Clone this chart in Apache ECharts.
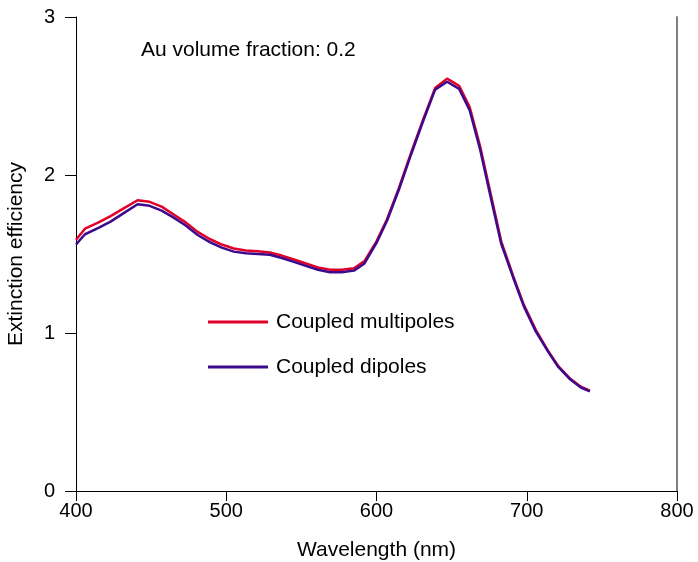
<!DOCTYPE html>
<html>
<head>
<meta charset="utf-8">
<script src="https://cdn.jsdelivr.net/npm/echarts@6/dist/echarts.min.js"></script>
<style>html,body{margin:0;padding:0;background:#fff}#c{width:698px;height:562px}</style>
</head>
<body>
<div id="c"></div>
<script>
const wavelengths = [400,406,415,423,432,441,449,457,465,473,481,489,497,505,513,521,529,537,545,553,561,569,577,585,592,600,607,615,623,631,639,647,655,662,669,676,683,691,698,706,714,721,729,736,742];
const multipoles = [1.59,1.66,1.70,1.74,1.79,1.84,1.83,1.80,1.75,1.70,1.64,1.595,1.56,1.535,1.522,1.518,1.51,1.49,1.465,1.44,1.415,1.40,1.40,1.41,1.455,1.58,1.72,1.92,2.14,2.35,2.55,2.61,2.565,2.43,2.18,1.88,1.58,1.36,1.18,1.02,0.89,0.79,0.71,0.66,0.635];
const dipoles = [1.56,1.625,1.665,1.705,1.76,1.815,1.805,1.775,1.73,1.68,1.62,1.575,1.54,1.515,1.505,1.50,1.495,1.475,1.45,1.425,1.40,1.385,1.385,1.395,1.44,1.57,1.71,1.91,2.13,2.34,2.54,2.59,2.545,2.41,2.16,1.86,1.565,1.35,1.17,1.01,0.885,0.785,0.705,0.655,0.63];
const seriesNames = ['Coupled multipoles','Coupled dipoles'];
const annotation = 'Au volume fraction: 0.2';
const xTitle = 'Wavelength (nm)';
const yTitle = 'Extinction efficiency';

const font = '"Liberation Sans", Arial, sans-serif';
const chart = echarts.init(document.getElementById('c'), null, {renderer:'canvas'});
const pair = (xs, ys) => xs.map((x,i)=>[x, ys[i]]);
chart.setOption({
  animation: false,
  backgroundColor: '#fff',
  textStyle: {fontFamily: font, color: '#000'},
  grid: {left: 76, top: 17, right: 21, bottom: 71, containLabel: false, outerBoundsMode: 'none'},
  legend: {
    orient: 'vertical', left: 208, top: 310, itemWidth: 60, itemHeight: 3, itemGap: 21, padding: 0,
    icon: 'rect',
    textStyle: {fontSize: 21, lineHeight: 24, color: '#000', fontFamily: font, padding: [0,0,0,3]},
    data: seriesNames
  },
  graphic: [{type: 'text', left: 141, top: 40, style: {text: annotation, fontSize: 21, fontFamily: font, fill: '#000'}}],
  xAxis: [{
    type: 'value', min: 400, max: 800, interval: 100,
    name: xTitle, nameLocation: 'middle', nameGap: 49,
    nameTextStyle: {fontSize: 21, color: '#000', fontFamily: font},
    axisLine: {lineStyle: {color: '#000', width: 1}},
    axisTick: {show: true, inside: false, length: 10, lineStyle: {color: '#000'}},
    axisLabel: {fontSize: 20, color: '#000', margin: 10, fontFamily: font},
    splitLine: {show: false}
  },{
    type: 'value', position: 'top', min: 400, max: 800,
    axisLine: {show: true, lineStyle: {color: '#000', width: 1}},
    axisTick: {show: false}, axisLabel: {show: false}, splitLine: {show: false}
  }],
  yAxis: [{
    type: 'value', min: 0, max: 3, interval: 1,
    name: yTitle, nameLocation: 'middle', nameGap: 49,
    nameTextStyle: {fontSize: 21, color: '#000', fontFamily: font},
    axisLine: {show: true, lineStyle: {color: '#000', width: 1}},
    axisTick: {show: true, inside: false, length: 11, lineStyle: {color: '#000'}},
    axisLabel: {fontSize: 20, color: '#000', margin: 21, fontFamily: font},
    splitLine: {show: false}
  },{
    type: 'value', position: 'right', min: 0, max: 3,
    axisLine: {show: true, lineStyle: {color: '#808080', width: 2}},
    axisTick: {show: false}, axisLabel: {show: false}, splitLine: {show: false}
  }],
  series: [{
    name: seriesNames[0], type: 'line', data: pair(wavelengths, multipoles),
    symbol: 'none', lineStyle: {color: '#e0002a', width: 2.5}, itemStyle: {color: '#e0002a'}, z: 2
  },{
    name: seriesNames[1], type: 'line', data: pair(wavelengths, dipoles),
    symbol: 'none', lineStyle: {color: '#3c0a8c', width: 2.5}, itemStyle: {color: '#3c0a8c'}, z: 3
  }]
});
</script>
</body>
</html>
